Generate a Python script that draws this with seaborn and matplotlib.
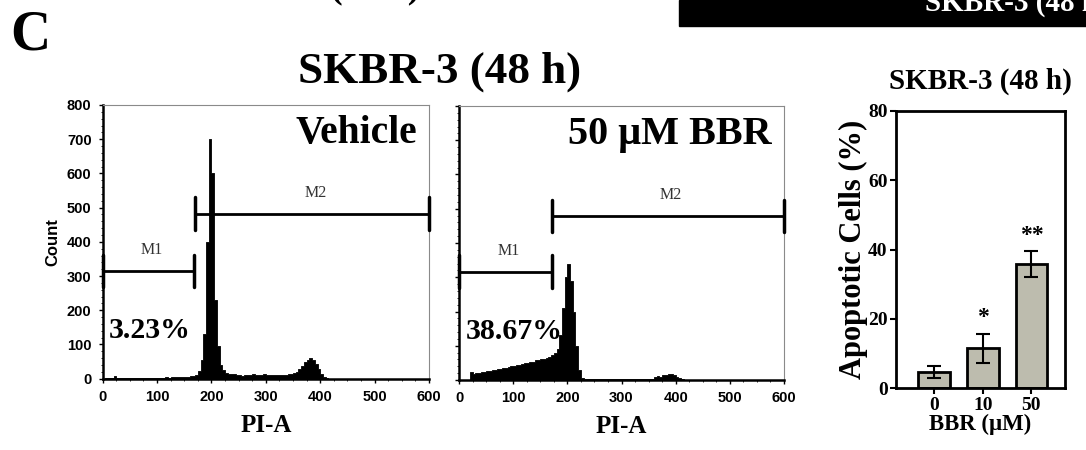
import numpy as np
import pandas as pd
import matplotlib
matplotlib.use('Agg')
import matplotlib.pyplot as plt
from matplotlib.patches import Rectangle
from matplotlib.ticker import MultipleLocator
import seaborn as sns

sns.set_style('ticks')
plt.rcParams['font.family'] = ['Liberation Serif', 'DejaVu Serif']
plt.rcParams['text.color'] = 'black'
plt.rcParams['axes.labelcolor'] = 'black'
plt.rcParams['xtick.color'] = 'black'
plt.rcParams['ytick.color'] = 'black'
SANS = ['Liberation Sans', 'DejaVu Sans']

# histogram bins (PI-A, 5 units wide), counts
BIN_WIDTH = 5
bin_left = list(range(0, 420, 5))

vehicle_counts = [
    0, 2, 2, 3, 7, 3, 2, 2, 3, 2,
    2, 3, 2, 2, 3, 2, 3, 2, 3, 3,
    2, 3, 3, 4, 3, 4, 4, 5, 4, 5,
    6, 5, 7, 8, 10, 22, 55, 130, 400, 700,
    600, 230, 95, 40, 24, 18, 15, 14, 13, 12,
    10, 9, 11, 12, 10, 13, 11, 12, 10, 13,
    11, 12, 10, 11, 10, 11, 12, 12, 13, 14,
    16, 20, 28, 38, 48, 56, 60, 55, 42, 28,
    15, 6, 2, 0,
]

bbr_counts = [
    0, 0, 0, 0, 22, 18, 20, 21, 22, 24,
    25, 27, 28, 30, 31, 33, 35, 36, 38, 40,
    42, 44, 45, 47, 50, 49, 54, 52, 57, 58,
    60, 62, 65, 68, 72, 78, 90, 130, 210, 300,
    340, 290, 200, 100, 30, 6, 3, 3, 2, 3,
    2, 2, 3, 2, 2, 3, 2, 2, 2, 3,
    2, 2, 3, 2, 2, 2, 3, 2, 2, 3,
    2, 3, 8, 12, 10, 14, 16, 18, 17, 14,
    10, 6, 3, 0,
]

# M1 / M2 gates: (name, start, end, level)
vehicle_gates = [('M1', 0, 168, 315), ('M2', 170, 600, 482)]
bbr_gates = [('M1', 0, 171, 316), ('M2', 171, 600, 479)]
vehicle_pct = '3.23%'
bbr_pct = '38.67%'

# bar chart
doses = ['0', '10', '50']
apoptotic_mean = [4.7, 11.5, 35.9]
apoptotic_err = [1.6, 4.3, 3.75]
stars = ['', '*', '**']

W, H = 1086, 450
fig = plt.figure(figsize=(W / 100, H / 100), dpi=100)


def px_axes(x0, y0, x1, y1):
    return fig.add_axes([x0 / W, 1 - y1 / H, (x1 - x0) / W, (y1 - y0) / H])


def draw_hist(ax, counts, gates, pct, label, label_size, show_ylabels):
    df = pd.DataFrame({'PI-A': np.array(bin_left) + BIN_WIDTH / 2, 'n': counts})
    sns.histplot(data=df, x='PI-A', weights='n', binwidth=BIN_WIDTH,
                 binrange=(0, 420), element='step', fill=True, color='black',
                 alpha=1, linewidth=0.6, ax=ax)
    ax.set_xlim(0, 600)
    ax.set_ylim(0, 800)

    for name, a, b, lvl in gates:
        ax.plot([a, b], [lvl, lvl], color='black', lw=2, clip_on=False, zorder=5)
        for e in (a, b):
            ax.plot([e, e], [lvl - 48, lvl + 48], color='black', lw=2.5,
                    clip_on=False, zorder=5)
        ax.text((a + b) / 2 + 6, lvl + 38, name, ha='center', va='bottom',
                fontsize=11.5, color='#333333')

    ax.text(12, 142, pct, fontsize=21.5, fontweight='bold', va='center', ha='left')
    ax.text(578, 718, label, fontsize=label_size, fontweight='bold',
            va='center', ha='right')

    for side in ('top', 'right'):
        ax.spines[side].set_color('#8a8a8a')
        ax.spines[side].set_linewidth(0.8)
    for side in ('left', 'bottom'):
        ax.spines[side].set_color('black')
        ax.spines[side].set_linewidth(1.8)

    ax.set_xticks(range(0, 601, 100))
    ax.set_xticklabels([str(v) for v in range(0, 601, 100)], fontfamily=SANS,
                       fontweight='bold', fontsize=10.5)
    ax.set_yticks(range(0, 801, 100))
    if show_ylabels:
        ax.set_yticklabels([str(v) for v in range(0, 801, 100)], fontfamily=SANS,
                           fontweight='bold', fontsize=10.5)
        ax.set_ylabel('Count', fontfamily=SANS, fontweight='bold', fontsize=12,
                      labelpad=5)
    else:
        ax.set_yticklabels([])
        ax.set_ylabel('')
    ax.xaxis.set_minor_locator(MultipleLocator(25))
    ax.yaxis.set_minor_locator(MultipleLocator(20))
    ax.tick_params(which='major', direction='out', length=3, width=1, pad=5)
    ax.tick_params(which='minor', direction='out', length=1.5, width=0.6)
    ax.set_xlabel('PI-A', fontsize=18, fontweight='bold', labelpad=7)


ax1 = px_axes(102.7, 105, 429, 378.7)
draw_hist(ax1, vehicle_counts, vehicle_gates, vehicle_pct, 'Vehicle', 28.5, True)

ax2 = px_axes(459, 106, 784, 380)
draw_hist(ax2, bbr_counts, bbr_gates, bbr_pct, '50 \u03bcM BBR', 29, False)

# bar chart
ax3 = px_axes(896, 111, 1065, 388.3)
bar_df = pd.DataFrame({'dose': doses, 'pct': apoptotic_mean})
sns.barplot(data=bar_df, x='dose', y='pct', color='#bdbcae', saturation=1,
            edgecolor='black', linewidth=2, width=0.65, errorbar=None, ax=ax3)
ax3.errorbar(x=range(len(doses)), y=apoptotic_mean, yerr=apoptotic_err,
             fmt='none', ecolor='black', elinewidth=1.5, capsize=5, capthick=1.5)
for i, s in enumerate(stars):
    if s:
        ax3.text(i, apoptotic_mean[i] + apoptotic_err[i] + 1.5, s, ha='center',
                 va='bottom', fontsize=17, fontweight='bold')
ax3.set_xlim(-0.78, 2.69)
ax3.set_ylim(0, 80)
ax3.set_yticks(range(0, 81, 20))
ax3.set_yticklabels([str(v) for v in range(0, 81, 20)], fontsize=14,
                    fontweight='bold')
ax3.set_xticks(range(len(doses)))
ax3.set_xticklabels(doses, fontsize=14, fontweight='bold')
ax3.tick_params(direction='out', length=4, width=1.5, pad=2)
for side in ax3.spines.values():
    side.set_color('black')
    side.set_linewidth(2)
ax3.set_ylabel('Apoptotic Cells (%)', fontsize=22, fontweight='bold', labelpad=0)
ax3.set_xlabel('BBR (\u03bcM)', fontsize=16.5, fontweight='bold', labelpad=0)
ax3.set_title('SKBR-3 (48 h)', fontsize=21, fontweight='bold', pad=16)

# figure-level text and the cropped strip of the neighbouring panel
fig.text(10 / W, 1 - 50 / H, 'C', fontsize=40, fontweight='bold', va='baseline')
fig.text(440 / W, 1 - 83 / H, 'SKBR-3 (48 h)', fontsize=32.5, fontweight='bold',
         va='baseline', ha='center')
fig.patches.append(Rectangle((679 / W, 1 - 26 / H), (W - 679) / W, 26 / H,
                             transform=fig.transFigure, color='black'))
fig.text(925 / W, 1 - 11 / H, 'SKBR-3 (48 h)', fontsize=21, fontweight='bold',
         color='white', va='baseline')
fig.text(193 / W, 1 + 3 / H, 'SKBR-3 (24 h)', fontsize=26, fontweight='bold',
         va='baseline')

fig.savefig('out.png', dpi=100)
